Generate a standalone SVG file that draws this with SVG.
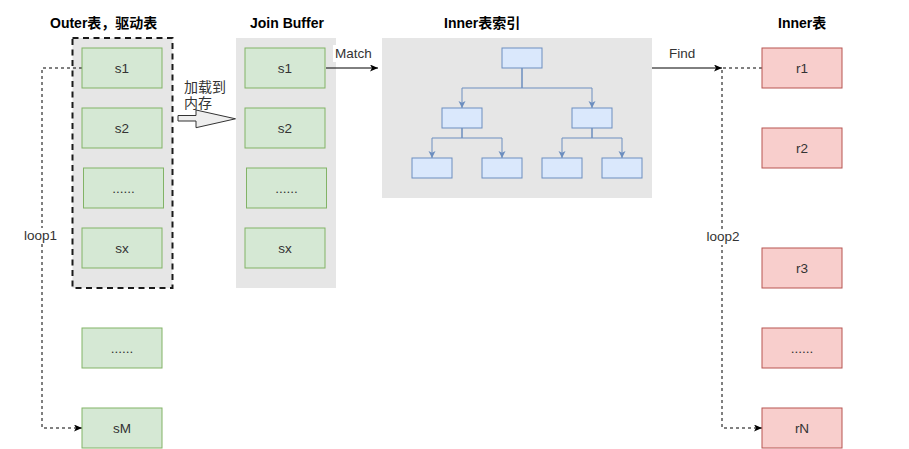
<svg xmlns="http://www.w3.org/2000/svg" width="909" height="449" viewBox="0 0 909 449">
<style>
.t{font-family:"Liberation Sans","Noto Sans CJK SC",Arial,sans-serif;font-size:13.5px;fill:#333333}
.title{font-family:"Liberation Sans","Noto Sans CJK SC",Arial,sans-serif;font-size:14px;font-weight:bold;fill:#000}
.cjk{font-family:"Liberation Sans","Noto Sans CJK SC",sans-serif;font-size:14px;fill:#333333}
.g{fill:#d5e8d4;stroke:#82b366;stroke-width:1}
.r{fill:#f8cecc;stroke:#b85450;stroke-width:1}
.b{fill:#dae8fc;stroke:#6c8ebf;stroke-width:1}
.bg{fill:#e6e6e6;stroke:none}
.e{fill:none;stroke:#000;stroke-width:1}
.d{fill:none;stroke:#000;stroke-width:1;stroke-dasharray:3 3}
.be{fill:none;stroke:#6c8ebf;stroke-width:1}
</style>
<defs>
<marker id="ah" markerUnits="userSpaceOnUse" markerWidth="10" markerHeight="8" refX="8" refY="3.5" orient="auto">
<path d="M0,0 L8,3.5 L0,7 L2,3.5 z" fill="#000"/>
</marker>
<marker id="bh" markerUnits="userSpaceOnUse" markerWidth="10" markerHeight="8" refX="7" refY="3.5" orient="auto">
<path d="M0,0 L7,3.5 L0,7 L1.8,3.5 z" fill="#6c8ebf"/>
</marker>
</defs>

<g id="backgrounds">
<rect id="outer-frame" x="72.5" y="38" width="100" height="250" fill="#e6e6e6" stroke="#1a1a1a" stroke-width="2" stroke-dasharray="6 4.5"/>
<rect id="join-buffer-bg" class="bg" x="236" y="38" width="100" height="250"/>
<rect id="index-bg" class="bg" x="382" y="38" width="270" height="160"/>
</g>

<g id="titles">
<text class="title" x="50" y="28">Outer表，驱动表</text>
<text class="title" x="250" y="28">Join Buffer</text>
<text class="title" x="444" y="28">Inner表索引</text>
<text class="title" x="778" y="28">Inner表</text>
</g>

<g id="connectors">
<path class="e" d="M326,68 H378" marker-end="url(#ah)"/>
<rect x="333" y="45" width="42" height="17" fill="#fff"/>
<text class="t" x="335" y="58">Match</text>
<path class="e" d="M652,68 H722" marker-end="url(#ah)"/>
<text class="t" x="669" y="58">Find</text>
<path class="d" d="M82,68 H42 V428 H82" marker-end="url(#ah)"/>
<rect x="23" y="228" width="35" height="16" fill="#fff"/>
<text class="t" x="40.5" y="240" text-anchor="middle">loop1</text>
<path class="d" d="M762,68 H722 V428 H762" marker-end="url(#ah)"/>
<rect x="705" y="229" width="36" height="16" fill="#fff"/>
<text class="t" x="723" y="241" text-anchor="middle">loop2</text>
<path class="be" d="M522,68 V88 H462 V108" marker-end="url(#bh)"/>
<path class="be" d="M522,68 V88 H592 V108" marker-end="url(#bh)"/>
<path class="be" d="M462,128 V138 H432 V158" marker-end="url(#bh)"/>
<path class="be" d="M462,128 V138 H502 V158" marker-end="url(#bh)"/>
<path class="be" d="M592,128 V138 H562 V158" marker-end="url(#bh)"/>
<path class="be" d="M592,128 V138 H622 V158" marker-end="url(#bh)"/>
</g>

<g id="load-arrow">
<path d="M178,115.5 H196 V110 L235.5,118.8 L196,127.7 V121 H178 Z" fill="#eeeeee" stroke="#333333" stroke-width="1"/>
<text class="cjk" x="184" y="91.5">加载到</text>
<text class="cjk" x="184" y="107.5">内存</text>
</g>

<g id="outer-s1"><rect class="g" x="82" y="48" width="80" height="40"/><text class="t" x="122" y="72.5" text-anchor="middle">s1</text></g>
<g id="outer-s2"><rect class="g" x="82" y="108" width="80" height="40"/><text class="t" x="122" y="132.5" text-anchor="middle">s2</text></g>
<g id="outer-dots"><rect class="g" x="83.5" y="168" width="80" height="40"/><text class="t" x="123.5" y="192.5" text-anchor="middle">......</text></g>
<g id="outer-sx"><rect class="g" x="82" y="228" width="80" height="40"/><text class="t" x="122" y="252.5" text-anchor="middle">sx</text></g>
<g id="outer-dots2"><rect class="g" x="82" y="328" width="80" height="40"/><text class="t" x="122" y="352.5" text-anchor="middle">......</text></g>
<g id="outer-sM"><rect class="g" x="82" y="408" width="80" height="40"/><text class="t" x="122" y="432.5" text-anchor="middle">sM</text></g>

<g id="jb-s1"><rect class="g" x="245" y="48" width="80" height="40"/><text class="t" x="285" y="72.5" text-anchor="middle">s1</text></g>
<g id="jb-s2"><rect class="g" x="245" y="108" width="80" height="40"/><text class="t" x="285" y="132.5" text-anchor="middle">s2</text></g>
<g id="jb-dots"><rect class="g" x="246.5" y="168" width="80" height="40"/><text class="t" x="286.5" y="192.5" text-anchor="middle">......</text></g>
<g id="jb-sx"><rect class="g" x="245" y="228" width="80" height="40"/><text class="t" x="285" y="252.5" text-anchor="middle">sx</text></g>

<g id="idx-root"><rect class="b" x="502" y="48" width="40" height="20"/></g>
<g id="idx-l"><rect class="b" x="442" y="108" width="40" height="20"/></g>
<g id="idx-r"><rect class="b" x="572" y="108" width="40" height="20"/></g>
<g id="idx-ll"><rect class="b" x="412" y="158" width="40" height="20"/></g>
<g id="idx-lr"><rect class="b" x="482" y="158" width="40" height="20"/></g>
<g id="idx-rl"><rect class="b" x="542" y="158" width="40" height="20"/></g>
<g id="idx-rr"><rect class="b" x="602" y="158" width="40" height="20"/></g>

<g id="inner-r1"><rect class="r" x="762" y="48" width="80" height="40"/><text class="t" x="802" y="72.5" text-anchor="middle">r1</text></g>
<g id="inner-r2"><rect class="r" x="762" y="128" width="80" height="40"/><text class="t" x="802" y="152.5" text-anchor="middle">r2</text></g>
<g id="inner-r3"><rect class="r" x="762" y="248" width="80" height="40"/><text class="t" x="802" y="272.5" text-anchor="middle">r3</text></g>
<g id="inner-dots"><rect class="r" x="762" y="328" width="80" height="40"/><text class="t" x="802" y="352.5" text-anchor="middle">......</text></g>
<g id="inner-rN"><rect class="r" x="762" y="408" width="80" height="40"/><text class="t" x="802" y="432.5" text-anchor="middle">rN</text></g>
</svg>
